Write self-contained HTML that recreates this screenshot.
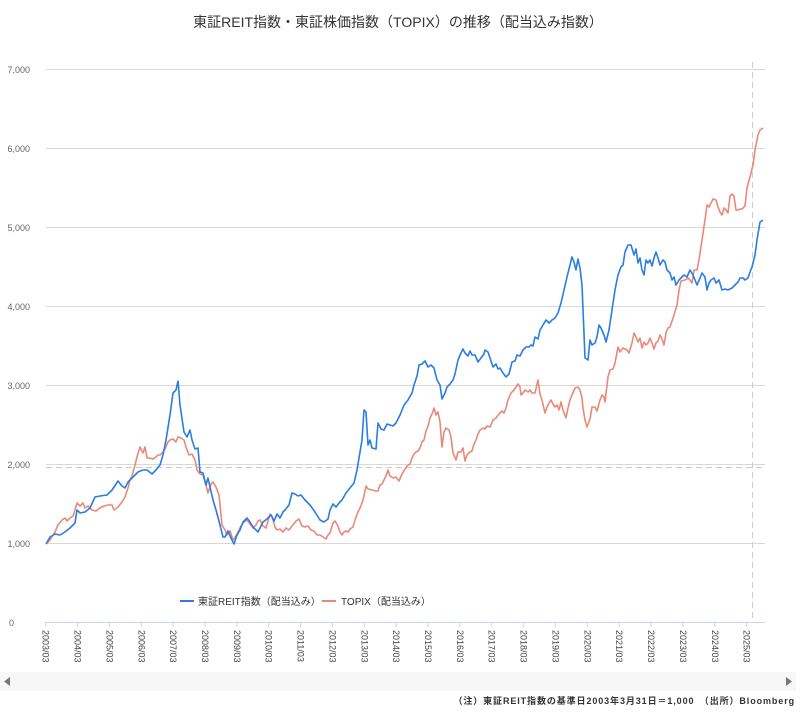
<!DOCTYPE html>
<html><head><meta charset="utf-8"><style>
html,body{margin:0;padding:0;background:#fff;}
body{width:811px;height:717px;overflow:hidden;font-family:"Liberation Sans","Noto Sans CJK JP",sans-serif;}
</style></head><body>
<svg width="811" height="717" xmlns="http://www.w3.org/2000/svg" style="position:absolute;left:0;top:0;font-family:'Liberation Sans','Noto Sans CJK JP',sans-serif">
<text x="398" y="27" text-anchor="middle" font-size="14" fill="#333">東証REIT指数・東証株価指数（TOPIX）の推移（配当込み指数）</text>
<g stroke="#d8d8d8" stroke-width="1">
<line x1="46" y1="69.5" x2="765" y2="69.5"/><line x1="46" y1="148.5" x2="765" y2="148.5"/>
<line x1="46" y1="227.5" x2="765" y2="227.5"/><line x1="46" y1="306.5" x2="765" y2="306.5"/>
<line x1="46" y1="385.5" x2="765" y2="385.5"/><line x1="46" y1="464.5" x2="765" y2="464.5"/>
<line x1="46" y1="543.5" x2="765" y2="543.5"/>
</g>
<line x1="46" y1="622.5" x2="765" y2="622.5" stroke="#c8d6e5"/>
<line x1="46" y1="467.5" x2="765" y2="467.5" stroke="#ccc" stroke-dasharray="6,4"/>
<line x1="752.5" y1="62" x2="752.5" y2="622" stroke="#ccc" stroke-dasharray="6,4"/>
<g font-size="9" fill="#666" text-anchor="end">
<text x="30" y="73">7,000</text><text x="30" y="152">6,000</text><text x="30" y="231">5,000</text>
<text x="30" y="310">4,000</text><text x="30" y="389">3,000</text><text x="30" y="468">2,000</text>
<text x="30" y="547">1,000</text><text x="14" y="626">0</text>
</g>
<g id="ticks" stroke="#c8d6e5"></g>
<g id="xl" font-size="9" fill="#444"></g>
<polyline fill="none" stroke="#e8897a" stroke-width="1.6" stroke-linejoin="round" points="46,544 50,540 55,532 58,525 62,520 65,518 67,521 70,518 73,516 75,510 77,503 80,506 83,503 85,508 88,506 92,510 96,511 100,508 104,506 108,505 112,505 114,510 118,507 122,502 125,497 128,488 130,480 132,476 135,465 137,457 140,447 143,453 145,447 147,458 150,458 153,459 156,457 158,455 160,455 163,452 165,449 168,442 170,440 173,439 176,442 178,437 181,438 184,440 186,447 189,455 192,454 195,460 197,470 200,474 203,475 206,485 208,493 211,484 213,482 216,487 219,495 222,525 225,530 227,535 230,531 233,540 236,536 239,530 241,526 244,522 247,520 250,524 253,528 256,525 258,521 260,520 263,526 266,528 270,514 272,516 275,527 277,530 280,529 283,532 286,528 289,530 292,526 296,521 299,519 302,526 305,527 308,526 311,530 314,531 317,535 320,535 323,537 326,539 328,535 330,533 333,523 335,521 338,526 340,532 342,535 344,532 346,531 348,532 350,529 353,527 355,520 358,512 360,508 362,503 364,496 366,486 368,489 372,490 376,491 378,491 380,485 382,484 384,480 386,476 388,470 390,476 393,478 396,477 399,481 402,474 405,469 407,466 410,464 412,458 414,454 416,452 418,451 420,448 422,442 424,440 426,431 428,426 430,418 432,414 434,408 436,415 438,412 440,422 442,447 444,432 446,428 449,430 451,437 453,453 456,460 458,452 461,452 463,448 465,461 467,455 470,452 472,451 474,444 476,440 478,434 480,430 483,428 485,429 487,426 490,427 493,420 496,418 499,414 502,411 504,413 506,408 508,400 511,393 514,390 516,387 518,384 520,387 521,395 523,393 525,390 528,392 530,390 532,393 535,393 538,380 540,394 542,400 545,413 547,407 549,403 551,400 553,404 555,407 557,405 559,410 561,402 563,410 566,418 568,408 570,400 572,395 575,388 578,387 580,390 582,398 583,408 585,420 587,427 590,419 592,407 595,407 597,411 600,400 602,395 604,397 605,402 608,377 610,370 613,369 615,363 618,347 620,352 623,348 625,349 627,350 629,353 632,343 634,333 636,337 638,342 640,338 642,348 644,342 646,345 648,343 650,338 652,343 654,349 656,343 658,341 660,335 662,339 664,345 666,333 668,328 670,327 672,321 674,315 677,305 679,290 681,281 685,280 688,278 690,280 692,283 694,270 697,270 699,260 702,240 705,220 707,205 709,207 711,203 713,199 716,200 718,207 720,212 722,215 724,208 726,210 728,213 730,196 732,194 734,196 736,210 738,210 740,209 742,209 745,206 747,188 750,177 753,165 755,150 758,135 760,130 763,128"/>
<polyline fill="none" stroke="#2a7de1" stroke-width="1.6" stroke-linejoin="round" points="46,544 50,537 55,534 60,535 65,532 70,528 75,523 77,510 80,513 85,512 90,508 95,497 100,496 107,495 112,490 118,481 122,486 125,488 128,482 133,477 138,472 143,470 147,470 152,474 156,470 160,465 163,455 166,440 170,415 173,393 176,390 178,381 180,405 184,432 187,437 190,430 192,440 195,449 198,448 200,472 203,473 206,485 208,478 210,487 213,500 216,510 220,525 223,537 225,537 228,531 231,538 234,544 237,535 240,530 243,522 247,518 250,522 253,527 258,532 263,522 267,519 271,515 274,521 277,514 280,518 283,512 285,510 289,505 292,493 295,494 298,496 301,495 305,500 310,505 315,512 320,520 324,522 328,519 330,510 333,504 336,507 339,503 342,500 346,493 350,488 354,483 357,470 360,452 362,440 364,410 366,412 368,445 370,440 372,448 376,449 378,423 381,429 384,430 387,424 390,425 393,426 396,423 400,415 404,405 408,400 412,393 414,385 417,376 419,365 422,364 425,361 428,367 431,365 434,368 437,380 440,385 442,399 445,393 447,387 450,384 453,380 455,374 458,360 461,353 463,349 465,353 468,356 470,351 472,355 475,355 478,362 481,358 484,354 485,350 488,352 490,358 493,367 496,364 498,369 500,368 503,373 506,377 509,374 512,362 515,361 517,355 520,356 523,350 526,347 529,347 531,345 533,346 535,337 538,339 540,330 543,325 546,320 549,323 552,320 555,318 558,313 561,303 564,290 567,277 570,265 572,257 574,262 576,270 578,259 580,268 582,285 585,358 588,360 590,340 592,345 595,343 597,337 599,325 601,328 604,335 606,342 609,330 612,310 615,290 618,275 621,267 623,265 625,252 628,245 631,245 634,255 636,249 638,263 640,258 642,270 644,275 646,260 648,263 650,260 652,266 654,258 656,252 658,258 660,265 663,260 665,262 667,270 670,273 672,280 674,277 676,285 679,280 681,278 684,275 687,277 690,270 693,275 695,280 697,285 700,278 702,273 705,277 707,290 709,283 711,280 714,278 716,283 719,280 722,290 725,289 728,290 732,288 735,285 738,282 740,278 743,278 745,280 748,278 750,272 752,267 755,255 757,240 760,222 763,220"/>
<line x1="180" y1="601" x2="194" y2="601" stroke="#2a7de1" stroke-width="2"/>
<text x="198" y="605" font-size="10" fill="#333">東証REIT指数（配当込み）</text>
<line x1="322" y1="601" x2="336" y2="601" stroke="#e8897a" stroke-width="2"/>
<text x="341" y="605" font-size="10" fill="#333">TOPIX（配当込み）</text>
<rect x="0" y="672" width="796" height="19" fill="#f7f7f7"/>
<polygon points="4,681.5 10,677 10,686" fill="#777"/>
<polygon points="792,681.5 786,677 786,686" fill="#777"/>
<text x="795" y="704" text-anchor="end" font-size="9" font-weight="bold" fill="#333" letter-spacing="0.9">（注）東証REIT指数の基準日2003年3月31日＝1,000　（出所）Bloomberg</text>
</svg>
<script>
var ns="http://www.w3.org/2000/svg",t=document.getElementById("ticks"),l=document.getElementById("xl");
for(var i=0;i<23;i++){var x=45.7+i*31.86;
var ln=document.createElementNS(ns,"line");ln.setAttribute("x1",x);ln.setAttribute("x2",x);ln.setAttribute("y1",622);ln.setAttribute("y2",627);t.appendChild(ln);
var tx=document.createElementNS(ns,"text");tx.setAttribute("transform","translate("+(x-3)+",630) rotate(90)");tx.textContent=(2003+i)+"/03";l.appendChild(tx);}
</script>
</body></html>
